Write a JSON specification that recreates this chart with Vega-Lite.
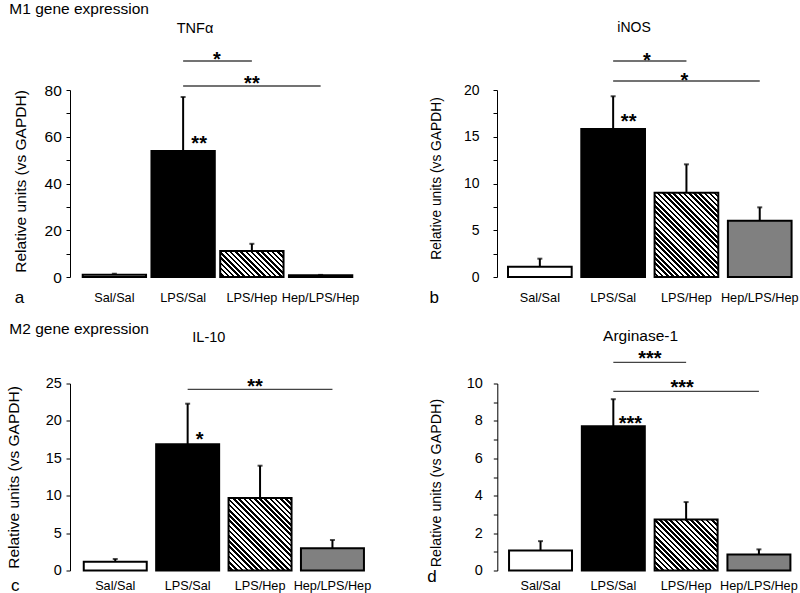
{
"$schema":"https://vega.github.io/schema/vega-lite/v6.json",
"padding":{"left":5,"top":2,"right":0,"bottom":0},
"bounds":"flush",
"spacing":293.5,
"config":{"view":{"stroke":null},"font":"Liberation Sans",
"axis":{"labelColor":"#000","titleColor":"#000","domainColor":"#000","tickColor":"#000","labelFont":"Liberation Sans","titleFont":"Liberation Sans","titleFontWeight":"normal","grid":false,"labelOverlap":false},
"title":{"color":"#000","fontWeight":"normal","font":"Liberation Sans"},
"text":{"color":"#000","font":"Liberation Sans"}},
"vconcat":[
{"hconcat":[
{"width":295,"height":187,
"title":{"text":"TNFα","fontSize":14.5,"anchor":"middle","frame":"group","dx":-22.5,"offset":13},
"data":{"values":[{"g":"Sal/Sal","v":1.0,"e":1.4},{"g":"LPS/Sal","v":53.9,"e":77.0},{"g":"LPS/Hep","v":11.1,"e":14.2},{"g":"Hep/LPS/Hep","v":0.7,"e":0.9}]},
"layer":[
{"transform":[{"filter":"datum.g !== 'LPS/Hep'"}],
"mark":{"type":"bar","stroke":"#000","strokeWidth":2},
"encoding":{
"x":{"field":"g","type":"nominal","scale":{"domain":["Sal/Sal","LPS/Sal","LPS/Hep","Hep/LPS/Hep"],"paddingInner":0.079,"paddingOuter":0.185},
"axis":{"title":"a","titleX":-51,"titleY":20,"titleFontSize":17,"titleAlign":"center","titleBaseline":"middle","titleAngle":0,"domain":false,"ticks":false,"tickSize":0,"labelPadding":14,"labelFontSize":12.7,"labelAngle":0,"labelOverlap":false}},
"y":{"field":"v","type":"quantitative","scale":{"domain":[0,80],"nice":false},
"axis":{"title":"Relative units (vs GAPDH)","titleFontSize":15.5,"titleX":-50,"titleY":91,"titleBaseline":"middle","titleAlign":"center","values":[0,10,20,30,40,50,60,70,80],"tickCount":30,"format":"~g","labelExpr":"datum.value % 20 === 0 ? datum.label : ''","tickSize":4,"labelPadding":4.7,"labelFontSize":15.5,"labelOverlap":false}},
"fill":{"field":"g","type":"nominal","scale":{"domain":["Sal/Sal","LPS/Sal","Hep/LPS/Hep"],"range":["#ffffff","#000000","#808080"]},"legend":null}}},
{"transform":[{"filter":"datum.g === 'LPS/Hep'"}],
"mark":{"type":"bar","stroke":"#000","strokeWidth":2,"fill":{"gradient":"linear","x1":0,"y1":1,"x2":1.207,"y2":0.505,"stops":[
{"offset":0,"color":"#fff"},
{"offset":0.029,"color":"#fff"},{"offset":0.029,"color":"#000"},
{"offset":0.059,"color":"#000"},{"offset":0.059,"color":"#fff"},
{"offset":0.088,"color":"#fff"},{"offset":0.088,"color":"#000"},
{"offset":0.118,"color":"#000"},{"offset":0.118,"color":"#fff"},
{"offset":0.147,"color":"#fff"},{"offset":0.147,"color":"#000"},
{"offset":0.176,"color":"#000"},{"offset":0.176,"color":"#fff"},
{"offset":0.206,"color":"#fff"},{"offset":0.206,"color":"#000"},
{"offset":0.235,"color":"#000"},{"offset":0.235,"color":"#fff"},
{"offset":0.265,"color":"#fff"},{"offset":0.265,"color":"#000"},
{"offset":0.294,"color":"#000"},{"offset":0.294,"color":"#fff"},
{"offset":0.324,"color":"#fff"},{"offset":0.324,"color":"#000"},
{"offset":0.353,"color":"#000"},{"offset":0.353,"color":"#fff"},
{"offset":0.382,"color":"#fff"},{"offset":0.382,"color":"#000"},
{"offset":0.412,"color":"#000"},{"offset":0.412,"color":"#fff"},
{"offset":0.441,"color":"#fff"},{"offset":0.441,"color":"#000"},
{"offset":0.471,"color":"#000"},{"offset":0.471,"color":"#fff"},
{"offset":0.5,"color":"#fff"},{"offset":0.5,"color":"#000"},
{"offset":0.529,"color":"#000"},{"offset":0.529,"color":"#fff"},
{"offset":0.559,"color":"#fff"},{"offset":0.559,"color":"#000"},
{"offset":0.588,"color":"#000"},{"offset":0.588,"color":"#fff"},
{"offset":0.618,"color":"#fff"},{"offset":0.618,"color":"#000"},
{"offset":0.647,"color":"#000"},{"offset":0.647,"color":"#fff"},
{"offset":0.676,"color":"#fff"},{"offset":0.676,"color":"#000"},
{"offset":0.706,"color":"#000"},{"offset":0.706,"color":"#fff"},
{"offset":0.735,"color":"#fff"},{"offset":0.735,"color":"#000"},
{"offset":0.765,"color":"#000"},{"offset":0.765,"color":"#fff"},
{"offset":0.794,"color":"#fff"},{"offset":0.794,"color":"#000"},
{"offset":0.824,"color":"#000"},{"offset":0.824,"color":"#fff"},
{"offset":0.853,"color":"#fff"},{"offset":0.853,"color":"#000"},
{"offset":0.882,"color":"#000"},{"offset":0.882,"color":"#fff"},
{"offset":0.912,"color":"#fff"},{"offset":0.912,"color":"#000"},
{"offset":0.941,"color":"#000"},{"offset":0.941,"color":"#fff"},
{"offset":0.971,"color":"#fff"},{"offset":0.971,"color":"#000"},
{"offset":1,"color":"#000"}]}},
"encoding":{"x":{"field":"g","type":"nominal"},"y":{"field":"v","type":"quantitative"}}},
{"mark":{"type":"rule","color":"#000","strokeWidth":2},
"encoding":{"x":{"field":"g","type":"nominal"},"y":{"field":"v","type":"quantitative"},"y2":{"field":"e"}}},
{"mark":{"type":"tick","color":"#000","thickness":2,"size":5},
"encoding":{"x":{"field":"g","type":"nominal"},"y":{"field":"e","type":"quantitative"}}},
{"data":{"values":[{"g1":"LPS/Sal","g2":"LPS/Hep","v":92.41},{"g1":"LPS/Sal","g2":"Hep/LPS/Hep","v":81.71}]},
"mark":{"type":"rule","color":"#444","strokeWidth":1.3},
"encoding":{"x":{"field":"g1","type":"nominal"},"x2":{"field":"g2"},"y":{"field":"v","type":"quantitative"}}},
{"data":{"values":[{"g":"LPS/Sal","v":90.48,"s":"*"}]},
"mark":{"type":"text","fontSize":20,"fontWeight":"bold","baseline":"alphabetic","dx":2},
"encoding":{"x":{"field":"g","type":"nominal","bandPosition":1},"y":{"field":"v","type":"quantitative"},"text":{"field":"s"}}},
{"data":{"values":[{"g":"LPS/Hep","v":79.79,"s":"**"}]},
"mark":{"type":"text","fontSize":20,"fontWeight":"bold","baseline":"alphabetic"},
"encoding":{"x":{"field":"g","type":"nominal"},"y":{"field":"v","type":"quantitative"},"text":{"field":"s"}}},
{"data":{"values":[{"g":"LPS/Sal","v":54.42,"s":"**"}]},
"mark":{"type":"text","fontSize":20,"fontWeight":"bold","baseline":"alphabetic","dx":16},
"encoding":{"x":{"field":"g","type":"nominal"},"y":{"field":"v","type":"quantitative"},"text":{"field":"s"}}}
]},
{"width":300,"height":187,
"title":{"text":"iNOS","fontSize":14,"anchor":"middle","frame":"group","dx":-13,"offset":16},
"data":{"values":[{"g":"Sal/Sal","v":1.10,"e":1.96},{"g":"LPS/Sal","v":15.83,"e":19.33},{"g":"LPS/Hep","v":9.02,"e":12.05},{"g":"Hep/LPS/Hep","v":6.02,"e":7.45}]},
"layer":[
{"transform":[{"filter":"datum.g !== 'LPS/Hep'"}],
"mark":{"type":"bar","stroke":"#000","strokeWidth":2},
"encoding":{
"x":{"field":"g","type":"nominal","scale":{"domain":["Sal/Sal","LPS/Sal","LPS/Hep","Hep/LPS/Hep"],"paddingInner":0.131,"paddingOuter":0.112,"align":0.67},
"axis":{"title":"b","titleX":-63.3,"titleY":20,"titleFontSize":17,"titleAlign":"center","titleBaseline":"middle","titleAngle":0,"domain":false,"ticks":false,"tickSize":0,"labelPadding":14,"labelFontSize":12.7,"labelAngle":0,"labelOverlap":false}},
"y":{"field":"v","type":"quantitative","scale":{"domain":[0,20],"nice":false},
"axis":{"title":"Relative units (vs GAPDH)","titleFontSize":13.8,"titleX":-60.5,"titleY":88,"titleBaseline":"middle","titleAlign":"center","values":[0,2.5,5,7.5,10,12.5,15,17.5,20],"tickCount":30,"format":"~g","labelExpr":"datum.value % 5 === 0 ? datum.label : ''","tickSize":4,"labelPadding":14,"labelFontSize":14,"labelOverlap":false}},
"fill":{"field":"g","type":"nominal","scale":{"domain":["Sal/Sal","LPS/Sal","Hep/LPS/Hep"],"range":["#ffffff","#000000","#808080"]},"legend":null}}},
{"transform":[{"filter":"datum.g === 'LPS/Hep'"}],
"mark":{"type":"bar","stroke":"#000","strokeWidth":2,"fill":{"gradient":"linear","x1":0,"y1":1,"x2":0.844,"y2":-0.118,"stops":[
{"offset":0,"color":"#fff"},
{"offset":0.018,"color":"#fff"},{"offset":0.018,"color":"#000"},
{"offset":0.035,"color":"#000"},{"offset":0.035,"color":"#fff"},
{"offset":0.053,"color":"#fff"},{"offset":0.053,"color":"#000"},
{"offset":0.070,"color":"#000"},{"offset":0.070,"color":"#fff"},
{"offset":0.088,"color":"#fff"},{"offset":0.088,"color":"#000"},
{"offset":0.105,"color":"#000"},{"offset":0.105,"color":"#fff"},
{"offset":0.123,"color":"#fff"},{"offset":0.123,"color":"#000"},
{"offset":0.140,"color":"#000"},{"offset":0.140,"color":"#fff"},
{"offset":0.158,"color":"#fff"},{"offset":0.158,"color":"#000"},
{"offset":0.175,"color":"#000"},{"offset":0.175,"color":"#fff"},
{"offset":0.193,"color":"#fff"},{"offset":0.193,"color":"#000"},
{"offset":0.211,"color":"#000"},{"offset":0.211,"color":"#fff"},
{"offset":0.228,"color":"#fff"},{"offset":0.228,"color":"#000"},
{"offset":0.246,"color":"#000"},{"offset":0.246,"color":"#fff"},
{"offset":0.263,"color":"#fff"},{"offset":0.263,"color":"#000"},
{"offset":0.281,"color":"#000"},{"offset":0.281,"color":"#fff"},
{"offset":0.298,"color":"#fff"},{"offset":0.298,"color":"#000"},
{"offset":0.316,"color":"#000"},{"offset":0.316,"color":"#fff"},
{"offset":0.333,"color":"#fff"},{"offset":0.333,"color":"#000"},
{"offset":0.351,"color":"#000"},{"offset":0.351,"color":"#fff"},
{"offset":0.368,"color":"#fff"},{"offset":0.368,"color":"#000"},
{"offset":0.386,"color":"#000"},{"offset":0.386,"color":"#fff"},
{"offset":0.404,"color":"#fff"},{"offset":0.404,"color":"#000"},
{"offset":0.421,"color":"#000"},{"offset":0.421,"color":"#fff"},
{"offset":0.439,"color":"#fff"},{"offset":0.439,"color":"#000"},
{"offset":0.456,"color":"#000"},{"offset":0.456,"color":"#fff"},
{"offset":0.474,"color":"#fff"},{"offset":0.474,"color":"#000"},
{"offset":0.491,"color":"#000"},{"offset":0.491,"color":"#fff"},
{"offset":0.509,"color":"#fff"},{"offset":0.509,"color":"#000"},
{"offset":0.526,"color":"#000"},{"offset":0.526,"color":"#fff"},
{"offset":0.544,"color":"#fff"},{"offset":0.544,"color":"#000"},
{"offset":0.561,"color":"#000"},{"offset":0.561,"color":"#fff"},
{"offset":0.579,"color":"#fff"},{"offset":0.579,"color":"#000"},
{"offset":0.596,"color":"#000"},{"offset":0.596,"color":"#fff"},
{"offset":0.614,"color":"#fff"},{"offset":0.614,"color":"#000"},
{"offset":0.632,"color":"#000"},{"offset":0.632,"color":"#fff"},
{"offset":0.649,"color":"#fff"},{"offset":0.649,"color":"#000"},
{"offset":0.667,"color":"#000"},{"offset":0.667,"color":"#fff"},
{"offset":0.684,"color":"#fff"},{"offset":0.684,"color":"#000"},
{"offset":0.702,"color":"#000"},{"offset":0.702,"color":"#fff"},
{"offset":0.719,"color":"#fff"},{"offset":0.719,"color":"#000"},
{"offset":0.737,"color":"#000"},{"offset":0.737,"color":"#fff"},
{"offset":0.754,"color":"#fff"},{"offset":0.754,"color":"#000"},
{"offset":0.772,"color":"#000"},{"offset":0.772,"color":"#fff"},
{"offset":0.789,"color":"#fff"},{"offset":0.789,"color":"#000"},
{"offset":0.807,"color":"#000"},{"offset":0.807,"color":"#fff"},
{"offset":0.825,"color":"#fff"},{"offset":0.825,"color":"#000"},
{"offset":0.842,"color":"#000"},{"offset":0.842,"color":"#fff"},
{"offset":0.860,"color":"#fff"},{"offset":0.860,"color":"#000"},
{"offset":0.877,"color":"#000"},{"offset":0.877,"color":"#fff"},
{"offset":0.895,"color":"#fff"},{"offset":0.895,"color":"#000"},
{"offset":0.912,"color":"#000"},{"offset":0.912,"color":"#fff"},
{"offset":0.930,"color":"#fff"},{"offset":0.930,"color":"#000"},
{"offset":0.947,"color":"#000"},{"offset":0.947,"color":"#fff"},
{"offset":0.965,"color":"#fff"},{"offset":0.965,"color":"#000"},
{"offset":0.982,"color":"#000"},{"offset":0.982,"color":"#fff"},
{"offset":1,"color":"#fff"}]}},
"encoding":{"x":{"field":"g","type":"nominal"},"y":{"field":"v","type":"quantitative"}}},
{"mark":{"type":"rule","color":"#000","strokeWidth":2},
"encoding":{"x":{"field":"g","type":"nominal"},"y":{"field":"v","type":"quantitative"},"y2":{"field":"e"}}},
{"mark":{"type":"tick","color":"#000","thickness":2,"size":5},
"encoding":{"x":{"field":"g","type":"nominal"},"y":{"field":"e","type":"quantitative"}}},
{"data":{"values":[{"g1":"LPS/Sal","g2":"LPS/Hep","v":23.10},{"g1":"LPS/Sal","g2":"Hep/LPS/Hep","v":20.96}]},
"mark":{"type":"rule","color":"#444","strokeWidth":1.3},
"encoding":{"x":{"field":"g1","type":"nominal"},"x2":{"field":"g2"},"y":{"field":"v","type":"quantitative"}}},
{"data":{"values":[{"g":"LPS/Sal","v":22.51,"s":"*"}]},
"mark":{"type":"text","fontSize":20,"fontWeight":"bold","baseline":"alphabetic","dx":2},
"encoding":{"x":{"field":"g","type":"nominal","bandPosition":1},"y":{"field":"v","type":"quantitative"},"text":{"field":"s"}}},
{"data":{"values":[{"g":"LPS/Hep","v":20.37,"s":"*"}]},
"mark":{"type":"text","fontSize":20,"fontWeight":"bold","baseline":"alphabetic","dx":-2},
"encoding":{"x":{"field":"g","type":"nominal"},"y":{"field":"v","type":"quantitative"},"text":{"field":"s"}}},
{"data":{"values":[{"g":"LPS/Sal","v":15.91,"s":"**"}]},
"mark":{"type":"text","fontSize":20,"fontWeight":"bold","baseline":"alphabetic","dx":15.5},
"encoding":{"x":{"field":"g","type":"nominal"},"y":{"field":"v","type":"quantitative"},"text":{"field":"s"}}}
]}
],
"spacing":132,"bounds":"flush",
"title":{"text":"M1 gene expression","anchor":"start","frame":"group","dx":-60.7,"fontSize":15.5,"offset":3}},
{"hconcat":[
{"width":307.7,"height":187,
"title":{"text":"IL-10","fontSize":14.5,"anchor":"middle","frame":"group","dx":-15,"offset":30},
"data":{"values":[{"g":"Sal/Sal","v":1.18,"e":1.54},{"g":"LPS/Sal","v":16.87,"e":22.3},{"g":"LPS/Hep","v":9.69,"e":14.01},{"g":"Hep/LPS/Hep","v":2.97,"e":4.08}]},
"layer":[
{"transform":[{"filter":"datum.g !== 'LPS/Hep'"}],
"mark":{"type":"bar","stroke":"#000","strokeWidth":2},
"encoding":{
"x":{"field":"g","type":"nominal","scale":{"domain":["Sal/Sal","LPS/Sal","LPS/Hep","Hep/LPS/Hep"],"paddingInner":0.13,"paddingOuter":0.19},
"axis":{"title":"c","titleX":-55.3,"titleY":14.5,"titleFontSize":17,"titleAlign":"center","titleBaseline":"middle","titleAngle":0,"domain":false,"ticks":false,"tickSize":0,"labelPadding":8.7,"labelFontSize":12.7,"labelAngle":0,"labelOverlap":false}},
"y":{"field":"v","type":"quantitative","scale":{"domain":[0,25],"nice":false},
"axis":{"title":"Relative units (vs GAPDH)","titleFontSize":15.5,"titleX":-57,"titleY":93.5,"titleBaseline":"middle","titleAlign":"center","values":[0,5,10,15,20,25],"tickCount":30,"format":"~g","tickSize":4,"labelPadding":4.7,"labelFontSize":14.5,"labelOverlap":false}},
"fill":{"field":"g","type":"nominal","scale":{"domain":["Sal/Sal","LPS/Sal","Hep/LPS/Hep"],"range":["#ffffff","#000000","#808080"]},"legend":null}}},
{"transform":[{"filter":"datum.g === 'LPS/Hep'"}],
"mark":{"type":"bar","stroke":"#000","strokeWidth":2,"fill":{"gradient":"linear","x1":0,"y1":1,"x2":0.926,"y2":-0.065,"stops":[
{"offset":0,"color":"#fff"},
{"offset":0.019,"color":"#fff"},{"offset":0.019,"color":"#000"},
{"offset":0.038,"color":"#000"},{"offset":0.038,"color":"#fff"},
{"offset":0.058,"color":"#fff"},{"offset":0.058,"color":"#000"},
{"offset":0.077,"color":"#000"},{"offset":0.077,"color":"#fff"},
{"offset":0.096,"color":"#fff"},{"offset":0.096,"color":"#000"},
{"offset":0.115,"color":"#000"},{"offset":0.115,"color":"#fff"},
{"offset":0.135,"color":"#fff"},{"offset":0.135,"color":"#000"},
{"offset":0.154,"color":"#000"},{"offset":0.154,"color":"#fff"},
{"offset":0.173,"color":"#fff"},{"offset":0.173,"color":"#000"},
{"offset":0.192,"color":"#000"},{"offset":0.192,"color":"#fff"},
{"offset":0.212,"color":"#fff"},{"offset":0.212,"color":"#000"},
{"offset":0.231,"color":"#000"},{"offset":0.231,"color":"#fff"},
{"offset":0.25,"color":"#fff"},{"offset":0.25,"color":"#000"},
{"offset":0.269,"color":"#000"},{"offset":0.269,"color":"#fff"},
{"offset":0.288,"color":"#fff"},{"offset":0.288,"color":"#000"},
{"offset":0.308,"color":"#000"},{"offset":0.308,"color":"#fff"},
{"offset":0.327,"color":"#fff"},{"offset":0.327,"color":"#000"},
{"offset":0.346,"color":"#000"},{"offset":0.346,"color":"#fff"},
{"offset":0.365,"color":"#fff"},{"offset":0.365,"color":"#000"},
{"offset":0.385,"color":"#000"},{"offset":0.385,"color":"#fff"},
{"offset":0.404,"color":"#fff"},{"offset":0.404,"color":"#000"},
{"offset":0.423,"color":"#000"},{"offset":0.423,"color":"#fff"},
{"offset":0.442,"color":"#fff"},{"offset":0.442,"color":"#000"},
{"offset":0.462,"color":"#000"},{"offset":0.462,"color":"#fff"},
{"offset":0.481,"color":"#fff"},{"offset":0.481,"color":"#000"},
{"offset":0.5,"color":"#000"},{"offset":0.5,"color":"#fff"},
{"offset":0.519,"color":"#fff"},{"offset":0.519,"color":"#000"},
{"offset":0.538,"color":"#000"},{"offset":0.538,"color":"#fff"},
{"offset":0.558,"color":"#fff"},{"offset":0.558,"color":"#000"},
{"offset":0.577,"color":"#000"},{"offset":0.577,"color":"#fff"},
{"offset":0.596,"color":"#fff"},{"offset":0.596,"color":"#000"},
{"offset":0.615,"color":"#000"},{"offset":0.615,"color":"#fff"},
{"offset":0.635,"color":"#fff"},{"offset":0.635,"color":"#000"},
{"offset":0.654,"color":"#000"},{"offset":0.654,"color":"#fff"},
{"offset":0.673,"color":"#fff"},{"offset":0.673,"color":"#000"},
{"offset":0.692,"color":"#000"},{"offset":0.692,"color":"#fff"},
{"offset":0.712,"color":"#fff"},{"offset":0.712,"color":"#000"},
{"offset":0.731,"color":"#000"},{"offset":0.731,"color":"#fff"},
{"offset":0.75,"color":"#fff"},{"offset":0.75,"color":"#000"},
{"offset":0.769,"color":"#000"},{"offset":0.769,"color":"#fff"},
{"offset":0.788,"color":"#fff"},{"offset":0.788,"color":"#000"},
{"offset":0.808,"color":"#000"},{"offset":0.808,"color":"#fff"},
{"offset":0.827,"color":"#fff"},{"offset":0.827,"color":"#000"},
{"offset":0.846,"color":"#000"},{"offset":0.846,"color":"#fff"},
{"offset":0.865,"color":"#fff"},{"offset":0.865,"color":"#000"},
{"offset":0.885,"color":"#000"},{"offset":0.885,"color":"#fff"},
{"offset":0.904,"color":"#fff"},{"offset":0.904,"color":"#000"},
{"offset":0.923,"color":"#000"},{"offset":0.923,"color":"#fff"},
{"offset":0.942,"color":"#fff"},{"offset":0.942,"color":"#000"},
{"offset":0.962,"color":"#000"},{"offset":0.962,"color":"#fff"},
{"offset":0.981,"color":"#fff"},{"offset":0.981,"color":"#000"},
{"offset":1,"color":"#000"}]}},
"encoding":{"x":{"field":"g","type":"nominal"},"y":{"field":"v","type":"quantitative"}}},
{"mark":{"type":"rule","color":"#000","strokeWidth":2},
"encoding":{"x":{"field":"g","type":"nominal"},"y":{"field":"v","type":"quantitative"},"y2":{"field":"e"}}},
{"mark":{"type":"tick","color":"#000","thickness":2,"size":5},
"encoding":{"x":{"field":"g","type":"nominal"},"y":{"field":"e","type":"quantitative"}}},
{"data":{"values":[{"g1":"LPS/Sal","g2":"Hep/LPS/Hep","v":24.22}]},
"mark":{"type":"rule","color":"#444","strokeWidth":1.3},
"encoding":{"x":{"field":"g1","type":"nominal"},"x2":{"field":"g2"},"y":{"field":"v","type":"quantitative"}}},
{"data":{"values":[{"g":"LPS/Hep","v":23.70,"s":"**"}]},
"mark":{"type":"text","fontSize":20,"fontWeight":"bold","baseline":"alphabetic","dx":-5},
"encoding":{"x":{"field":"g","type":"nominal"},"y":{"field":"v","type":"quantitative"},"text":{"field":"s"}}},
{"data":{"values":[{"g":"LPS/Sal","v":16.67,"s":"*"}]},
"mark":{"type":"text","fontSize":20,"fontWeight":"bold","baseline":"alphabetic","dx":12},
"encoding":{"x":{"field":"g","type":"nominal"},"y":{"field":"v","type":"quantitative"},"text":{"field":"s"}}}
]},
{"width":300,"height":187,
"title":{"text":"Arginase-1","fontSize":15.5,"anchor":"middle","frame":"group","dx":-6.7,"offset":4},
"data":{"values":[{"g":"Sal/Sal","v":1.07,"e":1.57},{"g":"LPS/Sal","v":7.71,"e":9.16},{"g":"LPS/Hep","v":2.73,"e":3.66},{"g":"Hep/LPS/Hep","v":0.86,"e":1.13}]},
"layer":[
{"transform":[{"filter":"datum.g !== 'LPS/Hep'"}],
"mark":{"type":"bar","stroke":"#000","strokeWidth":2},
"encoding":{
"x":{"field":"g","type":"nominal","scale":{"domain":["Sal/Sal","LPS/Sal","LPS/Hep","Hep/LPS/Hep"],"paddingInner":0.135,"paddingOuter":0.128,"align":0.63},
"axis":{"title":"d","titleX":-65.7,"titleY":5.5,"titleFontSize":17,"titleAlign":"center","titleBaseline":"middle","titleAngle":0,"domain":false,"ticks":false,"tickSize":0,"labelPadding":8.7,"labelFontSize":12.7,"labelAngle":0,"labelOverlap":false}},
"y":{"field":"v","type":"quantitative","scale":{"domain":[0,10],"nice":false},
"axis":{"title":"Relative units (vs GAPDH)","titleFontSize":14.3,"titleX":-61,"titleY":99,"titleBaseline":"middle","titleAlign":"center","values":[0,1,2,3,4,5,6,7,8,9,10],"tickCount":30,"format":"~g","labelExpr":"datum.value % 2 === 0 ? datum.label : ''","tickSize":4,"labelPadding":11,"labelFontSize":14.5,"labelOverlap":false}},
"fill":{"field":"g","type":"nominal","scale":{"domain":["Sal/Sal","LPS/Sal","Hep/LPS/Hep"],"range":["#ffffff","#000000","#808080"]},"legend":null}}},
{"transform":[{"filter":"datum.g === 'LPS/Hep'"}],
"mark":{"type":"bar","stroke":"#000","strokeWidth":2,"fill":{"gradient":"linear","x1":0,"y1":1,"x2":1.093,"y2":0.114,"stops":[
{"offset":0,"color":"#fff"},
{"offset":0.023,"color":"#fff"},{"offset":0.023,"color":"#000"},
{"offset":0.045,"color":"#000"},{"offset":0.045,"color":"#fff"},
{"offset":0.068,"color":"#fff"},{"offset":0.068,"color":"#000"},
{"offset":0.091,"color":"#000"},{"offset":0.091,"color":"#fff"},
{"offset":0.114,"color":"#fff"},{"offset":0.114,"color":"#000"},
{"offset":0.136,"color":"#000"},{"offset":0.136,"color":"#fff"},
{"offset":0.159,"color":"#fff"},{"offset":0.159,"color":"#000"},
{"offset":0.182,"color":"#000"},{"offset":0.182,"color":"#fff"},
{"offset":0.205,"color":"#fff"},{"offset":0.205,"color":"#000"},
{"offset":0.227,"color":"#000"},{"offset":0.227,"color":"#fff"},
{"offset":0.25,"color":"#fff"},{"offset":0.25,"color":"#000"},
{"offset":0.273,"color":"#000"},{"offset":0.273,"color":"#fff"},
{"offset":0.295,"color":"#fff"},{"offset":0.295,"color":"#000"},
{"offset":0.318,"color":"#000"},{"offset":0.318,"color":"#fff"},
{"offset":0.341,"color":"#fff"},{"offset":0.341,"color":"#000"},
{"offset":0.364,"color":"#000"},{"offset":0.364,"color":"#fff"},
{"offset":0.386,"color":"#fff"},{"offset":0.386,"color":"#000"},
{"offset":0.409,"color":"#000"},{"offset":0.409,"color":"#fff"},
{"offset":0.432,"color":"#fff"},{"offset":0.432,"color":"#000"},
{"offset":0.455,"color":"#000"},{"offset":0.455,"color":"#fff"},
{"offset":0.477,"color":"#fff"},{"offset":0.477,"color":"#000"},
{"offset":0.5,"color":"#000"},{"offset":0.5,"color":"#fff"},
{"offset":0.523,"color":"#fff"},{"offset":0.523,"color":"#000"},
{"offset":0.545,"color":"#000"},{"offset":0.545,"color":"#fff"},
{"offset":0.568,"color":"#fff"},{"offset":0.568,"color":"#000"},
{"offset":0.591,"color":"#000"},{"offset":0.591,"color":"#fff"},
{"offset":0.614,"color":"#fff"},{"offset":0.614,"color":"#000"},
{"offset":0.636,"color":"#000"},{"offset":0.636,"color":"#fff"},
{"offset":0.659,"color":"#fff"},{"offset":0.659,"color":"#000"},
{"offset":0.682,"color":"#000"},{"offset":0.682,"color":"#fff"},
{"offset":0.705,"color":"#fff"},{"offset":0.705,"color":"#000"},
{"offset":0.727,"color":"#000"},{"offset":0.727,"color":"#fff"},
{"offset":0.75,"color":"#fff"},{"offset":0.75,"color":"#000"},
{"offset":0.773,"color":"#000"},{"offset":0.773,"color":"#fff"},
{"offset":0.795,"color":"#fff"},{"offset":0.795,"color":"#000"},
{"offset":0.818,"color":"#000"},{"offset":0.818,"color":"#fff"},
{"offset":0.841,"color":"#fff"},{"offset":0.841,"color":"#000"},
{"offset":0.864,"color":"#000"},{"offset":0.864,"color":"#fff"},
{"offset":0.886,"color":"#fff"},{"offset":0.886,"color":"#000"},
{"offset":0.909,"color":"#000"},{"offset":0.909,"color":"#fff"},
{"offset":0.932,"color":"#fff"},{"offset":0.932,"color":"#000"},
{"offset":0.955,"color":"#000"},{"offset":0.955,"color":"#fff"},
{"offset":0.977,"color":"#fff"},{"offset":0.977,"color":"#000"},
{"offset":1,"color":"#000"}]}},
"encoding":{"x":{"field":"g","type":"nominal"},"y":{"field":"v","type":"quantitative"}}},
{"mark":{"type":"rule","color":"#000","strokeWidth":2},
"encoding":{"x":{"field":"g","type":"nominal"},"y":{"field":"v","type":"quantitative"},"y2":{"field":"e"}}},
{"mark":{"type":"tick","color":"#000","thickness":2,"size":5},
"encoding":{"x":{"field":"g","type":"nominal"},"y":{"field":"e","type":"quantitative"}}},
{"data":{"values":[{"g1":"LPS/Sal","g2":"LPS/Hep","v":11.13},{"g1":"LPS/Sal","g2":"Hep/LPS/Hep","v":9.58}]},
"mark":{"type":"rule","color":"#444","strokeWidth":1.3},
"encoding":{"x":{"field":"g1","type":"nominal"},"x2":{"field":"g2"},"y":{"field":"v","type":"quantitative"}}},
{"data":{"values":[{"g":"LPS/Sal","v":11.0,"s":"***"}]},
"mark":{"type":"text","fontSize":20,"fontWeight":"bold","baseline":"alphabetic","dx":5},
"encoding":{"x":{"field":"g","type":"nominal","bandPosition":1},"y":{"field":"v","type":"quantitative"},"text":{"field":"s"}}},
{"data":{"values":[{"g":"LPS/Hep","v":9.45,"s":"***"}]},
"mark":{"type":"text","fontSize":20,"fontWeight":"bold","baseline":"alphabetic","dx":-4},
"encoding":{"x":{"field":"g","type":"nominal"},"y":{"field":"v","type":"quantitative"},"text":{"field":"s"}}},
{"data":{"values":[{"g":"LPS/Sal","v":7.54,"s":"***"}]},
"mark":{"type":"text","fontSize":20,"fontWeight":"bold","baseline":"alphabetic","dx":17},
"encoding":{"x":{"field":"g","type":"nominal"},"y":{"field":"v","type":"quantitative"},"text":{"field":"s"}}}
]}
],
"spacing":119.3,"bounds":"flush",
"title":{"text":"M2 gene expression","anchor":"start","frame":"group","dx":-60.7,"fontSize":15.5,"offset":-8}}
]
}
